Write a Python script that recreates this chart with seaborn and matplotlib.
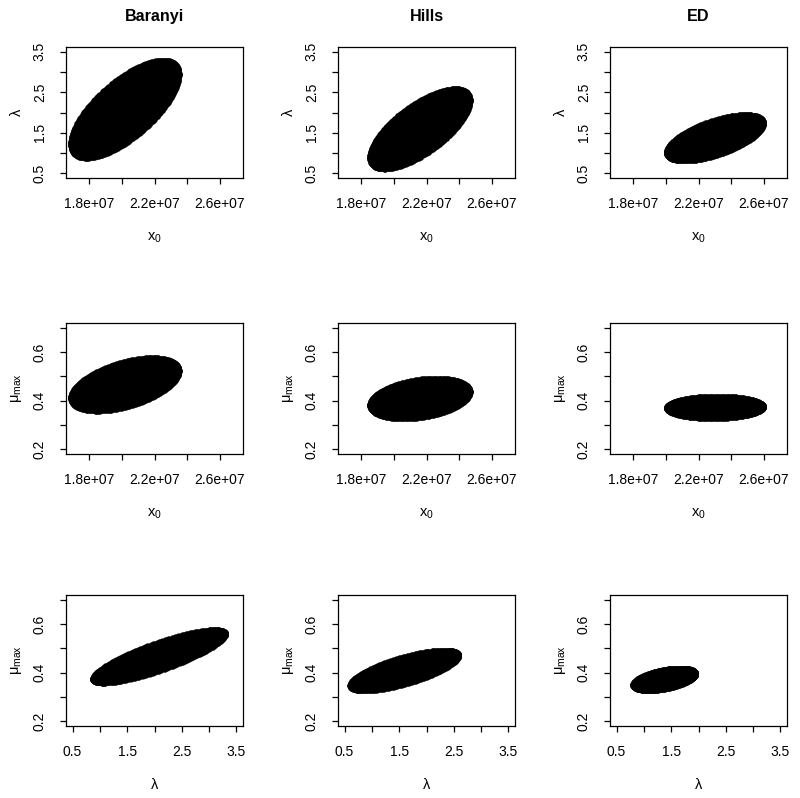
import numpy as np
import pandas as pd
import matplotlib
matplotlib.use("Agg")
import matplotlib.pyplot as plt
import seaborn as sns

models = ["Baranyi", "Hills", "ED"]

# outer extent of each joint confidence region
x0_lo = [1.686e7, 1.851e7, 2.002e7]
x0_hi = [2.353e7, 2.469e7, 2.600e7]
lam_lo = [0.86, 0.59, 0.79]
lam_hi = [3.31, 2.60, 1.96]
mu_lo = [0.355, 0.323, 0.324]
mu_hi = [0.579, 0.495, 0.421]

# tilt (correlation) of each pair of parameters
rho_x0_lam = [0.70, 0.70, 0.62]
rho_x0_mu = [0.50, 0.32, 0.05]
rho_lam_mu = [0.83, 0.72, 0.48]

# axis ranges (R pads them by 4%) and ticks
x0_range = [1.7e7, 2.7e7]
lam_range = [0.5, 3.5]
mu_range = [0.2, 0.7]
x0_ticks = [1.8e7, 2.0e7, 2.2e7, 2.4e7, 2.6e7]
x0_ticklabels = ["1.8e+07", "", "2.2e+07", "", "2.6e+07"]
lam_ticks = [0.5, 1.0, 1.5, 2.0, 2.5, 3.0, 3.5]
lam_ticklabels = ["0.5", "", "1.5", "", "2.5", "", "3.5"]
mu_ticks = [0.2, 0.3, 0.4, 0.5, 0.6, 0.7]
mu_ticklabels = ["0.2", "", "0.4", "", "0.6", ""]


def region(xlo, xhi, ylo, yhi, rho, n=360):
    """Outline of an elliptical region with the given extent and tilt."""
    t = np.linspace(0, 2 * np.pi, n)
    phi = np.arccos(rho)
    cx, hx = (xlo + xhi) / 2, (xhi - xlo) / 2
    cy, hy = (ylo + yhi) / 2, (yhi - ylo) / 2
    return pd.DataFrame({'x': cx + hx * np.cos(t), 'y': cy + hy * np.cos(t - phi)})


def padded(rng):
    d = 0.04 * (rng[1] - rng[0])
    return rng[0] - d, rng[1] + d


sns.set_style("ticks")
plt.rcParams['font.family'] = ['Liberation Sans', 'DejaVu Sans']
plt.rcParams['mathtext.fontset'] = 'custom'
plt.rcParams['mathtext.rm'] = 'Liberation Sans'
plt.rcParams['mathtext.it'] = 'Liberation Sans:italic'
plt.rcParams['text.color'] = 'black'
plt.rcParams['axes.labelcolor'] = 'black'
plt.rcParams['xtick.color'] = 'black'
plt.rcParams['ytick.color'] = 'black'

fig = plt.figure(figsize=(8, 7.98), dpi=100)

axes_info = {
    'x0': (x0_lo, x0_hi, x0_range, x0_ticks, x0_ticklabels, r"x$_\mathregular{0}$"),
    'lam': (lam_lo, lam_hi, lam_range, lam_ticks, lam_ticklabels, "λ"),
    'mu': (mu_lo, mu_hi, mu_range, mu_ticks, mu_ticklabels, r"μ$_\mathregular{max}$"),
}
rows = [('x0', 'lam', rho_x0_lam), ('x0', 'mu', rho_x0_mu), ('lam', 'mu', rho_lam_mu)]

col_left = [66, 338, 610]
row_top = [47, 323, 595]
W, H = 800, 798
pw, ph = 177, 131

for r, (xv, yv, rho) in enumerate(rows):
    xlo, xhi, xr, xt, xtl, xlab = axes_info[xv]
    ylo, yhi, yr, yt, ytl, ylab = axes_info[yv]
    for c, model in enumerate(models):
        ax = fig.add_axes([col_left[c] / W, (H - row_top[r] - ph) / H, pw / W, ph / H])
        outline = region(xlo[c], xhi[c], ylo[c], yhi[c], rho[c])
        ax.fill(outline['x'], outline['y'], color='black', lw=0)
        sns.scatterplot(data=outline, x='x', y='y', color='black',
                        s=9, linewidth=0, ax=ax, legend=False)

        ax.set_xlim(padded(xr))
        ax.set_ylim(padded(yr))
        ax.set_xticks(xt)
        ax.set_xticklabels(xtl)
        ax.set_yticks(yt)
        ax.set_yticklabels(ytl, rotation=90, va='center')
        ax.tick_params(length=4.3, width=0.9, pad=9.5, labelsize=10, color='black')
        for s in ax.spines.values():
            s.set_visible(True)
            s.set_linewidth(0.9)
            s.set_color('black')

        ax.set_xlabel(xlab, fontsize=10.5)
        ax.set_ylabel(ylab, fontsize=10.5)
        ax.xaxis.set_label_coords(0.5, -0.40)
        ax.yaxis.set_label_coords(-0.24, 0.5)
        if r == 0:
            ax.set_title(model, fontsize=11.6, fontweight='bold', pad=19)

fig.savefig("out.png", dpi=100, facecolor='white')
